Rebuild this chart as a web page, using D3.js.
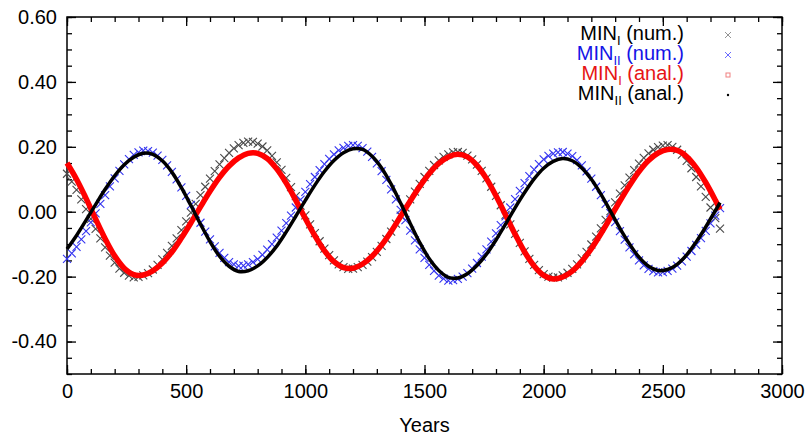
<!DOCTYPE html>
<html lang="en">
<head>
<meta charset="UTF-8">
<title>MIN I / MIN II</title>
<script src="https://d3js.org/d3.v7.min.js"></script>
<style>
  body { margin: 0; background: #fff; }
  svg { display: block; font-family: "Liberation Sans", Arial, Helvetica, sans-serif; }
  .axis text { font-size: 20px; fill: #000; }
  .axis line { stroke: #000; stroke-width: 1.3; }
  .axis path { display: none; }
</style>
</head>
<body>
<svg id="chart"></svg>
<script>
// sample years of the numerical series (every 20 years)
const yearsNum = [
  0, 20, 40, 60, 80, 100, 120, 140, 160, 180,
  200, 220, 240, 260, 280, 300, 320, 340, 360, 380,
  400, 420, 440, 460, 480, 500, 520, 540, 560, 580,
  600, 620, 640, 660, 680, 700, 720, 740, 760, 780,
  800, 820, 840, 860, 880, 900, 920, 940, 960, 980,
  1000, 1020, 1040, 1060, 1080, 1100, 1120, 1140, 1160, 1180,
  1200, 1220, 1240, 1260, 1280, 1300, 1320, 1340, 1360, 1380,
  1400, 1420, 1440, 1460, 1480, 1500, 1520, 1540, 1560, 1580,
  1600, 1620, 1640, 1660, 1680, 1700, 1720, 1740, 1760, 1780,
  1800, 1820, 1840, 1860, 1880, 1900, 1920, 1940, 1960, 1980,
  2000, 2020, 2040, 2060, 2080, 2100, 2120, 2140, 2160, 2180,
  2200, 2220, 2240, 2260, 2280, 2300, 2320, 2340, 2360, 2380,
  2400, 2420, 2440, 2460, 2480, 2500, 2520, 2540, 2560, 2580,
  2600, 2620, 2640, 2660, 2680, 2700, 2720, 2740
];

// MIN_I (num.) - gray crosses
const minINum = [
  0.117, 0.093, 0.067, 0.038, 0.008, -0.022, -0.053, -0.082, -0.110, -0.135,
  -0.157, -0.175, -0.188, -0.197, -0.202,
  -0.201, -0.196, -0.189, -0.178, -0.164, -0.147, -0.127, -0.105, -0.082, -0.057,
  -0.030, -0.003, 0.024, 0.051, 0.077, 0.102, 0.125, 0.146, 0.165, 0.181,
  0.195, 0.205, 0.212, 0.216,
  0.215, 0.210, 0.201, 0.189, 0.172, 0.152, 0.129, 0.104, 0.076, 0.048,
  0.019, -0.011, -0.039, -0.066, -0.091, -0.114, -0.134, -0.150, -0.162, -0.171,
  -0.176,
  -0.175, -0.171, -0.164, -0.154, -0.140, -0.124, -0.105, -0.084, -0.061, -0.037,
  -0.012, 0.013, 0.038, 0.062, 0.086, 0.107, 0.126, 0.144, 0.158, 0.169,
  0.177, 0.183,
  0.184, 0.181, 0.173, 0.161, 0.145, 0.126, 0.103, 0.077, 0.049, 0.020,
  -0.010, -0.039, -0.068, -0.096, -0.122, -0.145, -0.164, -0.180, -0.192, -0.200,
  -0.203,
  -0.202, -0.196, -0.188, -0.176, -0.162, -0.144, -0.124, -0.101, -0.077, -0.051,
  -0.025, 0.002, 0.029, 0.056, 0.081, 0.105, 0.128, 0.148, 0.166, 0.180,
  0.191, 0.199, 0.204,
  0.205, 0.200, 0.191, 0.176, 0.157, 0.134, 0.107, 0.078, 0.046, 0.013,
  -0.020, -0.052
];

// MIN_II (num.) - blue crosses
const minIINum = [
  -0.145, -0.128, -0.108, -0.085, -0.060, -0.033, -0.005, 0.024, 0.051, 0.078,
  0.103, 0.126, 0.146, 0.162, 0.175, 0.183, 0.188,
  0.187, 0.182, 0.173, 0.160, 0.143, 0.123, 0.100, 0.075, 0.049, 0.021,
  -0.007, -0.034, -0.061, -0.085, -0.107, -0.127, -0.142, -0.155, -0.162, -0.167,
  -0.166, -0.162, -0.155, -0.146, -0.133, -0.117, -0.100, -0.080, -0.058, -0.035,
  -0.012, 0.013, 0.037, 0.061, 0.085, 0.107, 0.128, 0.147, 0.163, 0.177,
  0.189, 0.197, 0.203, 0.205,
  0.203, 0.196, 0.185, 0.169, 0.149, 0.125, 0.098, 0.069, 0.038, 0.006,
  -0.026, -0.058, -0.088, -0.116, -0.142, -0.164, -0.182, -0.197, -0.206, -0.212,
  -0.211, -0.207, -0.200, -0.189, -0.175, -0.158, -0.138, -0.116, -0.092, -0.067,
  -0.041, -0.014, 0.013, 0.039, 0.064, 0.088, 0.110, 0.130, 0.147, 0.161,
  0.172, 0.179, 0.183,
  0.184, 0.179, 0.171, 0.159, 0.143, 0.124, 0.102, 0.077, 0.051, 0.024,
  -0.004, -0.032, -0.060, -0.086, -0.110, -0.131, -0.150, -0.165, -0.176, -0.183,
  -0.187,
  -0.186, -0.182, -0.175, -0.166, -0.153, -0.138, -0.121, -0.102, -0.081, -0.059,
  -0.036, -0.012, 0.011
];

// sample years of the analytical curves (every 40 years)
const yearsAnal = [
  0, 40, 80, 120, 160, 200, 240, 280, 320, 360,
  400, 440, 480, 520, 560, 600, 640, 680, 720, 760,
  800, 840, 880, 920, 960, 1000, 1040, 1080, 1120, 1160,
  1200, 1240, 1280, 1320, 1360, 1400, 1440, 1480, 1520, 1560,
  1600, 1640, 1680, 1720, 1760, 1800, 1840, 1880, 1920, 1960,
  2000, 2040, 2080, 2120, 2160, 2200, 2240, 2280, 2320, 2360,
  2400, 2440, 2480, 2520, 2560, 2600, 2640, 2680, 2720, 2740
];

// MIN_I (anal.) - red
const minIAnal = [
  0.150, 0.100, 0.041, -0.022, -0.083, -0.136, -0.174, -0.194,
  -0.195, -0.182, -0.158, -0.124, -0.081, -0.034, 0.015, 0.063, 0.106, 0.141, 0.166, 0.180,
  0.180, 0.164, 0.132, 0.088, 0.035, -0.021, -0.074, -0.120, -0.154, -0.172,
  -0.174, -0.161, -0.137, -0.103, -0.061, -0.014, 0.033, 0.078, 0.118, 0.149, 0.169, 0.177,
  0.169, 0.143, 0.102, 0.049, -0.010, -0.069, -0.124, -0.167, -0.196, -0.207,
  -0.201, -0.183, -0.153, -0.114, -0.068, -0.018, 0.033, 0.081, 0.124, 0.158, 0.181, 0.192,
  0.189, 0.170, 0.136, 0.090, 0.036, 0.007
];

// MIN_II (anal.) - black
const minIIAnal = [
  -0.115, -0.073, -0.026, 0.022, 0.069, 0.111, 0.145, 0.168, 0.180,
  0.177, 0.157, 0.122, 0.074, 0.019, -0.038, -0.092, -0.137, -0.168, -0.184,
  -0.182, -0.167, -0.141, -0.106, -0.062, -0.014, 0.035, 0.082, 0.124, 0.158, 0.182, 0.194,
  0.192, 0.171, 0.135, 0.085, 0.026, -0.036, -0.095, -0.145, -0.181, -0.202,
  -0.204, -0.191, -0.166, -0.131, -0.087, -0.038, 0.012, 0.059, 0.101, 0.134, 0.155, 0.164,
  0.157, 0.135, 0.100, 0.054, 0.002, -0.051, -0.099, -0.140, -0.168, -0.181,
  -0.178, -0.162, -0.133, -0.093, -0.047, 0.003, 0.028
];

const xMajorTicks = [0, 500, 1000, 1500, 2000, 2500, 3000];
const yMajorTicks = [-0.4, -0.2, 0.0, 0.2, 0.4, 0.6];

const legendNames = ["MIN", "MIN", "MIN", "MIN"];
const legendSubs = ["I", "II", "I", "II"];
const legendTails = [" (num.)", " (num.)", " (anal.)", " (anal.)"];

// ---- chart setup ----
const width = 810, height = 438;
const margin = { top: 17, right: 28, bottom: 64, left: 67 };

const svg = d3.select("#chart").attr("width", width).attr("height", height);

const x = d3.scaleLinear().domain([0, 3000]).range([margin.left, width - margin.right]);
const y = d3.scaleLinear().domain([-0.5, 0.6]).range([height - margin.bottom, margin.top]);

const xMinor = d3.range(0, 3001, 100);
const yMinor = d3.range(-10, 13).map(i => i * 0.05);

const fmt = d => d.toFixed(2);

// axes: ticks point inward on all four sides
function addAxis(axis, transform, labels) {
  const g = svg.append("g").attr("class", "axis").attr("transform", transform).call(axis);
  if (!labels) g.selectAll("text").remove();
  return g;
}

const bottomY = y(-0.5), topY = y(0.6), leftX = x(0), rightX = x(3000);

addAxis(d3.axisBottom(x).tickValues(xMinor).tickSize(-5).tickSizeOuter(0).tickFormat(""), `translate(0,${bottomY})`, false);
addAxis(d3.axisBottom(x).tickValues(xMajorTicks).tickSize(-9).tickSizeOuter(0).tickPadding(10).tickFormat(d3.format("d")), `translate(0,${bottomY})`, true);
addAxis(d3.axisTop(x).tickValues(xMinor).tickSize(-5).tickSizeOuter(0), `translate(0,${topY})`, false);
addAxis(d3.axisTop(x).tickValues(xMajorTicks).tickSize(-9).tickSizeOuter(0), `translate(0,${topY})`, false);

addAxis(d3.axisLeft(y).tickValues(yMinor).tickSize(-5).tickSizeOuter(0).tickFormat(""), `translate(${leftX},0)`, false);
addAxis(d3.axisLeft(y).tickValues(yMajorTicks).tickSize(-9).tickSizeOuter(0).tickPadding(10).tickFormat(fmt), `translate(${leftX},0)`, true);
addAxis(d3.axisRight(y).tickValues(yMinor).tickSize(-5).tickSizeOuter(0), `translate(${rightX},0)`, false);
addAxis(d3.axisRight(y).tickValues(yMajorTicks).tickSize(-9).tickSizeOuter(0), `translate(${rightX},0)`, false);

// frame
svg.append("rect")
  .attr("x", leftX).attr("y", topY)
  .attr("width", rightX - leftX).attr("height", bottomY - topY)
  .attr("fill", "none").attr("stroke", "#000").attr("stroke-width", 1.5);

// x title
svg.append("text")
  .attr("x", x(1500)).attr("y", 432)
  .attr("text-anchor", "middle").attr("font-size", 20)
  .text("Years");

// ---- data ----
const crossPath = s => `M${-s},${-s}L${s},${s}M${-s},${s}L${s},${-s}`;

function drawCrosses(values, color) {
  svg.append("g")
    .selectAll("path")
    .data(yearsNum.map((t, i) => [t, values[i]]))
    .join("path")
    .attr("transform", d => `translate(${x(d[0])},${y(d[1])})`)
    .attr("d", crossPath(4))
    .attr("fill", "none")
    .attr("stroke", color)
    .attr("stroke-width", 1.1);
}

drawCrosses(minINum, "#4a4a4a");
drawCrosses(minIINum, "#3333f0");

const line = d3.line()
  .x(d => x(d[0]))
  .y(d => y(d[1]))
  .curve(d3.curveCatmullRom);

svg.append("path")
  .datum(yearsAnal.map((t, i) => [t, minIAnal[i]]))
  .attr("d", line)
  .attr("fill", "none").attr("stroke", "#ff0000").attr("stroke-width", 5.5);

svg.append("path")
  .datum(yearsAnal.map((t, i) => [t, minIIAnal[i]]))
  .attr("d", line)
  .attr("fill", "none").attr("stroke", "#000").attr("stroke-width", 3.5);

// ---- legend ----
const legendColors = ["#000", "#1414e6", "#e61414", "#000"];
const legend = svg.append("g").attr("font-size", 20);

legendNames.forEach((name, i) => {
  const baseY = 40 + i * 20;
  const t = legend.append("text")
    .attr("x", 684).attr("y", baseY)
    .attr("text-anchor", "end")
    .attr("fill", legendColors[i]);
  t.append("tspan").text(name);
  t.append("tspan").attr("font-size", 13).attr("dy", 5).text(legendSubs[i]);
  t.append("tspan").attr("dy", -5).text(legendTails[i]);

  const sx = 728, sy = baseY - 5;
  if (i === 0 || i === 1) {
    legend.append("path")
      .attr("transform", `translate(${sx},${sy})`)
      .attr("d", crossPath(3))
      .attr("fill", "none")
      .attr("stroke", i === 0 ? "#888" : "#5a5aff")
      .attr("stroke-width", 0.9);
  } else if (i === 2) {
    legend.append("rect")
      .attr("x", sx - 2).attr("y", sy - 2)
      .attr("width", 4).attr("height", 4)
      .attr("fill", "none").attr("stroke", "#f08080").attr("stroke-width", 1);
  } else {
    legend.append("circle")
      .attr("cx", sx).attr("cy", sy).attr("r", 1.2)
      .attr("fill", "#000");
  }
});
</script>
</body>
</html>
